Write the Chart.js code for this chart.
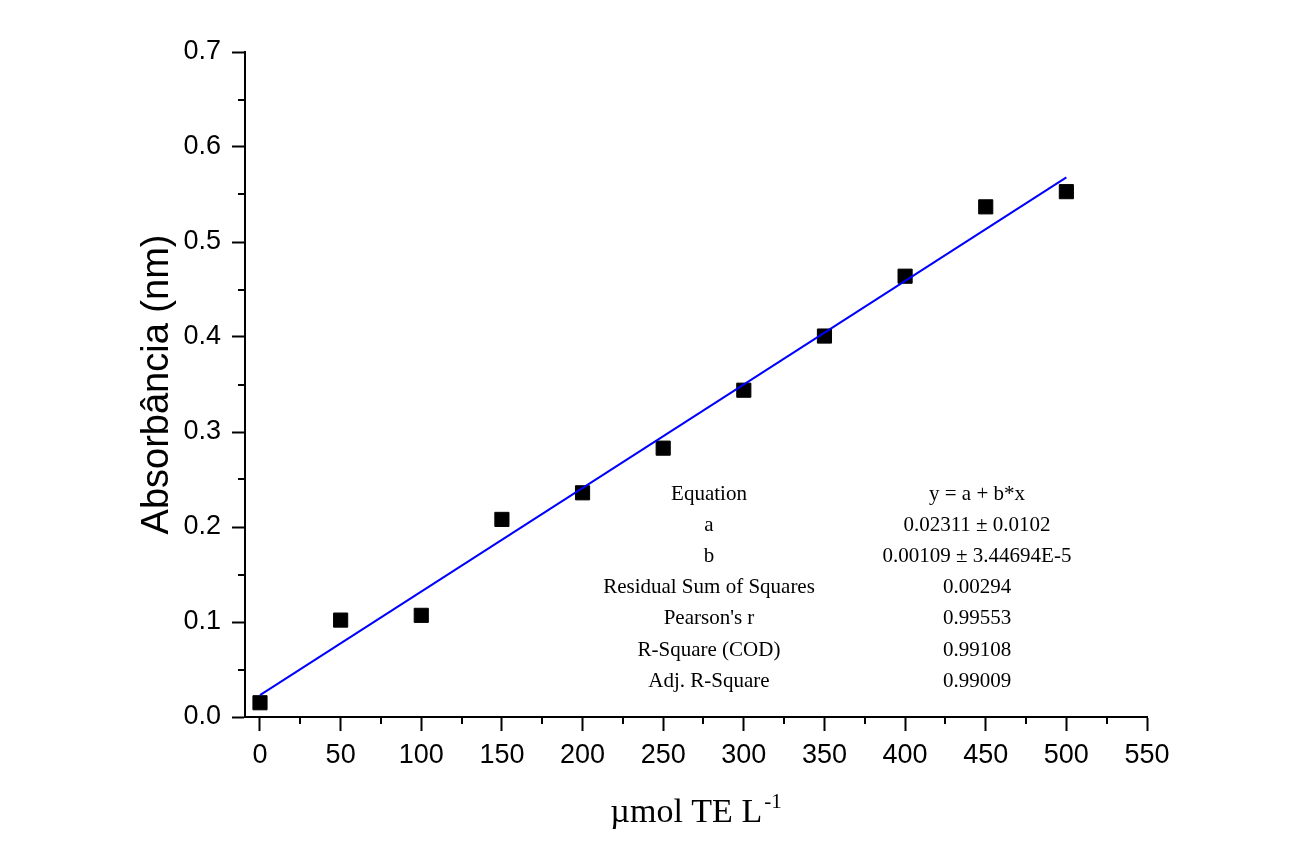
<!DOCTYPE html>
<html>
<head>
<meta charset="utf-8">
<script src="https://cdn.jsdelivr.net/npm/chart.js@4/dist/chart.umd.min.js"></script>
<style>
  html, body { margin: 0; padding: 0; background: #fff; }
  #wrap { width: 1308px; height: 865px; }
</style>
</head>
<body>
<div id="wrap"><canvas id="calib" width="1308" height="865"></canvas></div>
<script>
// concentration (µmol TE/L) and measured absorbance
const concentrations = [0, 50, 100, 150, 200, 250, 300, 350, 400, 450, 500];
const absorbance = [0.015, 0.102, 0.107, 0.208, 0.236, 0.283, 0.344, 0.401, 0.464, 0.537, 0.553];

// fitted line end points
const fitX = [0, 500];
const fitY = [0.0231, 0.568];

// axis ticks
const xTicks = [0, 50, 100, 150, 200, 250, 300, 350, 400, 450, 500, 550];
const yTicks = [0.0, 0.1, 0.2, 0.3, 0.4, 0.5, 0.6, 0.7];

// fit report table
const statNames = ['Equation', 'a', 'b', 'Residual Sum of Squares', "Pearson's r", 'R-Square (COD)', 'Adj. R-Square'];
const statValues = ['y = a + b*x', '0.02311 \u00b1 0.0102', '0.00109 \u00b1 3.44694E-5', '0.00294', '0.99553', '0.99108', '0.99009'];

const tickFont = { family: 'Liberation Sans, Arial, sans-serif', size: 27 };
const serif = '"Liberation Serif", "Times New Roman", serif';

// small ticks half way between the labelled ones
const minorTicks = {
  id: 'minorTicks',
  afterDraw(chart) {
    const ctx = chart.ctx;
    const xs = chart.scales.x, ys = chart.scales.y;
    const area = chart.chartArea;
    ctx.save();
    ctx.strokeStyle = '#000';
    ctx.lineWidth = 2;
    ctx.beginPath();
    for (let i = 0; i < xTicks.length - 1; i++) {
      const px = Math.round(xs.getPixelForValue((xTicks[i] + xTicks[i + 1]) / 2));
      ctx.moveTo(px, area.bottom);
      ctx.lineTo(px, area.bottom + 7);
    }
    for (let i = 0; i < yTicks.length - 1; i++) {
      const py = Math.round(ys.getPixelForValue((yTicks[i] + yTicks[i + 1]) / 2));
      ctx.moveTo(area.left, py);
      ctx.lineTo(area.left - 7, py);
    }
    ctx.stroke();
    ctx.restore();
  }
};

// x axis title with a real superscript
const xTitle = {
  id: 'xTitle',
  afterDraw(chart) {
    const ctx = chart.ctx;
    const area = chart.chartArea;
    const main = '\u00b5mol TE L';
    const sup = '-1';
    ctx.save();
    ctx.fillStyle = '#000';
    ctx.textBaseline = 'alphabetic';
    ctx.textAlign = 'left';
    ctx.font = '34px ' + serif;
    const w1 = ctx.measureText(main).width;
    ctx.font = '21px ' + serif;
    const w2 = ctx.measureText(sup).width;
    const start = (area.left + area.right) / 2 - (w1 + w2 + 2) / 2;
    const base = area.bottom + 105;
    ctx.font = '34px ' + serif;
    ctx.fillText(main, start, base);
    ctx.font = '21px ' + serif;
    ctx.fillText(sup, start + w1 + 2, base - 14);
    ctx.restore();
  }
};

// the regression report printed inside the plot
const statsTable = {
  id: 'statsTable',
  afterDraw(chart) {
    const ctx = chart.ctx;
    const area = chart.chartArea;
    ctx.save();
    ctx.fillStyle = '#000';
    ctx.font = '21px ' + serif;
    ctx.textAlign = 'center';
    ctx.textBaseline = 'middle';
    const leftCol = area.left + 464;
    const rightCol = area.left + 732;
    const top = area.top + 442;
    statNames.forEach((name, i) => {
      ctx.fillText(name, leftCol, top + i * 31.2);
      ctx.fillText(statValues[i], rightCol, top + i * 31.2);
    });
    ctx.restore();
  }
};

const data = {
  datasets: [{
    type: 'line',
    label: 'Linear fit',
    data: fitX.map((x, i) => ({ x: x, y: fitY[i] })),
    borderColor: '#0000ff',
    borderWidth: 2,
    pointRadius: 0,
    fill: false
  }, {
    type: 'scatter',
    label: 'Absorbância',
    data: concentrations.map((x, i) => ({ x: x, y: absorbance[i] })),
    pointStyle: 'rect',
    pointRadius: 10,
    pointBorderWidth: 1,
    backgroundColor: '#000',
    borderColor: '#000'
  }]
};

const config = {
  data: data,
  options: {
    responsive: false,
    animation: false,
    layout: { padding: { left: 0, top: 52, right: 161, bottom: 0 } },
    plugins: {
      legend: { display: false },
      tooltip: { enabled: false }
    },
    scales: {
      x: {
        type: 'linear',
        min: -9.3,
        max: 550,
        afterBuildTicks: (axis) => { axis.ticks = xTicks.map(v => ({ value: v })); },
        afterFit: (scale) => { scale.height = 148; },
        border: { display: true, color: '#000', width: 2 },
        grid: { drawOnChartArea: false, drawTicks: true, tickLength: 14, tickWidth: 2, tickColor: '#000' },
        ticks: { color: '#000', font: tickFont, padding: 8, maxRotation: 0 }
      },
      y: {
        type: 'linear',
        min: 0,
        max: 0.7,
        afterBuildTicks: (axis) => { axis.ticks = yTicks.map(v => ({ value: v })); },
        afterFit: (scale) => { scale.width = 245; },
        border: { display: true, color: '#000', width: 2 },
        grid: { drawOnChartArea: false, drawTicks: true, tickLength: 13, tickWidth: 2, tickColor: '#000' },
        ticks: { color: '#000', font: tickFont, padding: 11, callback: (v) => v.toFixed(1) },
        title: {
          display: true,
          text: 'Absorb\u00e2ncia (nm)',
          color: '#000',
          font: { family: 'Liberation Sans, Arial, sans-serif', size: 38 },
          padding: { top: 135, bottom: 0 }
        }
      }
    }
  },
  plugins: [minorTicks, xTitle, statsTable]
};

var calibChart = new Chart(document.getElementById('calib'), config);
</script>
</body>
</html>
